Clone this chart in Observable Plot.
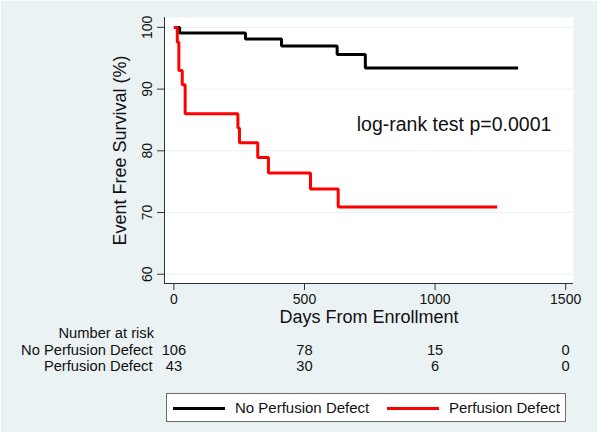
<!DOCTYPE html>
<html>
<head>
<meta charset="utf-8">
<script src="https://cdn.jsdelivr.net/npm/d3@7"></script>
<script src="https://cdn.jsdelivr.net/npm/@observablehq/plot@0.6"></script>
<style>
  html, body { margin: 0; padding: 0; background: #ffffff; }
  #wrap { position: relative; width: 600px; height: 437px; overflow: hidden; font-family: "Liberation Sans", Arial, Helvetica, sans-serif; }
  #bg { position: absolute; left: 1px; top: 1px; width: 596px; height: 431px; background: #eaf2f3; }
  #chart { position: absolute; left: 0; top: 0; }
  #legend { position: absolute; left: 0; top: 387px; width: 600px; height: 50px; }
  #legbox { position: absolute; left: 166px; top: 6px; width: 398px; height: 27px; background: #fff; border: 1px solid #6e6e6e; }
  .sw { position: absolute; top: 13px; height: 3px; width: 52px; }
  .lt { position: absolute; top: 5px; font-size: 15px; line-height: 18px; color: #111; white-space: nowrap; }
</style>
</head>
<body>
<div id="wrap">
  <div id="bg"></div>
  <div id="chart"></div>
  <div id="legend">
    <div id="legbox">
      <div class="sw" style="left:6px;background:#000;"></div>
      <div class="lt" style="left:68px;" id="lt1"></div>
      <div class="sw" style="left:220px;background:#ff0000;"></div>
      <div class="lt" style="left:282px;" id="lt2"></div>
    </div>
  </div>
</div>
<script>
// Series names
const groups = ["No Perfusion Defect", "Perfusion Defect"];
// Kaplan-Meier steps (days, survival %)
const noDefectDays = [0, 22, 274, 412, 625, 733, 1318];
const noDefectSurv = [100, 99.1, 98.1, 97.0, 95.6, 93.4, 93.4];
const defectDays = [0, 13, 19, 32, 43, 245, 251, 321, 362, 523, 629, 1238];
const defectSurv = [100, 97.6, 93.0, 90.7, 86.0, 83.7, 81.3, 78.9, 76.4, 73.8, 70.9, 70.9];
// Axes ticks
const xTicks = [0, 500, 1000, 1500];
const yTicks = [60, 70, 80, 90, 100];
// Number at risk table
const riskTimes = [0, 500, 1000, 1500];
const riskNoDefect = [106, 78, 15, 0];
const riskDefect = [43, 30, 6, 0];
const annotation = "log-rank test p=0.0001";

const colors = ["#000000", "#ff0000"];

const rows = [];
noDefectDays.forEach((d, i) => rows.push({group: groups[0], day: d, surv: noDefectSurv[i]}));
defectDays.forEach((d, i) => rows.push({group: groups[1], day: d, surv: defectSurv[i]}));

const risk = [];
riskTimes.forEach((t, i) => {
  risk.push({day: t, n: riskNoDefect[i], row: 0});
  risk.push({day: t, n: riskDefect[i], row: 1});
});

const font = "'Liberation Sans', Arial, Helvetica, sans-serif";

const chart = Plot.plot({
  width: 600,
  height: 387,
  marginLeft: 164,
  marginRight: 27,
  marginTop: 17,
  marginBottom: 104,
  style: {background: "transparent", fontFamily: font, color: "#111", overflow: "visible"},
  x: {domain: [-36, 1530], label: null},
  y: {domain: [58.5, 101.6], label: null},
  color: {domain: groups, range: colors},
  marks: [
    Plot.frame({fill: "#ffffff", stroke: null}),
    Plot.gridY(yTicks, {stroke: "#eaf2f3", strokeOpacity: 1, strokeWidth: 1}),
    Plot.axisY({ticks: yTicks, tickSize: 7, tickFormat: () => "", stroke: "#333", strokeWidth: 1, label: null}),
    Plot.text(yTicks, {y: d => d, text: d => String(d), frameAnchor: "left", dx: -17, rotate: -90, textAnchor: "middle", fontSize: 14, fill: "#111"}),
    Plot.axisX({ticks: xTicks, tickSize: 7, tickPadding: 4, fontSize: 14, tickFormat: d => String(d), stroke: "#333", strokeWidth: 1, label: null}),
    Plot.ruleX([-36], {stroke: "#333", strokeWidth: 1}),
    Plot.ruleY([58.5], {stroke: "#333", strokeWidth: 1}),
    Plot.line(rows, {x: "day", y: "surv", z: "group", stroke: "group", strokeWidth: 3, curve: "step-after", strokeLinejoin: "miter", strokeLinecap: "butt"}),
    Plot.text([annotation], {x: 700, y: 84.3, text: d => d, textAnchor: "start", fontSize: 19.5, fill: "#111"}),
    // axis titles
    Plot.text(["Days From Enrollment"], {frameAnchor: "bottom", dy: 39, text: d => d, textAnchor: "middle", fontSize: 18, fill: "#111"}),
    Plot.text(["Event Free Survival (%)"], {frameAnchor: "left", dx: -44, rotate: -90, text: d => d, textAnchor: "middle", fontSize: 18, fill: "#111"}),
    // number at risk
    Plot.text(["Number at risk"], {frameAnchor: "bottom-left", dx: -10.5, dy: 54, textAnchor: "end", text: d => d, fontSize: 14.7, fill: "#111"}),
    Plot.text(groups.slice(0, 1), {frameAnchor: "bottom-left", dx: -12, dy: 71, text: d => d, textAnchor: "end", fontSize: 14.7, fill: "#111"}),
    Plot.text(groups.slice(1, 2), {frameAnchor: "bottom-left", dx: -12, dy: 87, text: d => d, textAnchor: "end", fontSize: 14.7, fill: "#111"}),
    Plot.text(risk.filter(r => r.row === 0), {x: "day", frameAnchor: "bottom", dy: 71, text: d => String(d.n), textAnchor: "middle", fontSize: 14.7, fill: "#111"}),
    Plot.text(risk.filter(r => r.row === 1), {x: "day", frameAnchor: "bottom", dy: 87, text: d => String(d.n), textAnchor: "middle", fontSize: 14.7, fill: "#111"})
  ]
});
document.getElementById("chart").appendChild(chart);
document.getElementById("lt1").textContent = groups[0];
document.getElementById("lt2").textContent = groups[1];
</script>
</body>
</html>
